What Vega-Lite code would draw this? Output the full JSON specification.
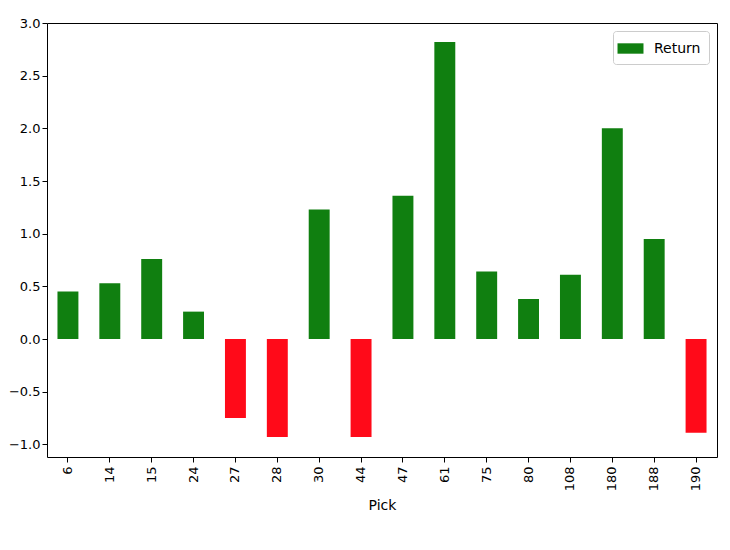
{
  "$schema": "https://vega.github.io/schema/vega-lite/v6.json",
  "width": 670,
  "height": 434,
  "padding": {"left": 8, "top": 17, "right": 8, "bottom": 0},
  "config": {
    "font": "DejaVu Sans",
    "view": {"stroke": "black", "strokeWidth": 1},
    "axis": {"grid": false, "domain": false, "tickColor": "black", "tickSize": 5, "labelColor": "black", "labelFontSize": 13, "titleFontSize": 14, "titleFontWeight": "normal", "titleColor": "black"}
  },
  "data": {
    "values": [
      {"Pick": "6", "Return": 0.45},
      {"Pick": "14", "Return": 0.53},
      {"Pick": "15", "Return": 0.76},
      {"Pick": "24", "Return": 0.26},
      {"Pick": "27", "Return": -0.75},
      {"Pick": "28", "Return": -0.93},
      {"Pick": "30", "Return": 1.23},
      {"Pick": "44", "Return": -0.93},
      {"Pick": "47", "Return": 1.36},
      {"Pick": "61", "Return": 2.82},
      {"Pick": "75", "Return": 0.64},
      {"Pick": "80", "Return": 0.38},
      {"Pick": "108", "Return": 0.61},
      {"Pick": "180", "Return": 2.0},
      {"Pick": "188", "Return": 0.95},
      {"Pick": "190", "Return": -0.89}
    ]
  },
  "mark": {"type": "bar"},
  "encoding": {
    "x": {"field": "Pick", "type": "nominal", "sort": null, "title": "Pick",
      "scale": {"paddingInner": 0.5, "paddingOuter": 0.25},
      "axis": {"labelAngle": -90, "labelPadding": 4, "titlePadding": 8}},
    "y": {"field": "Return", "type": "quantitative", "title": null,
      "scale": {"domain": [-1.12, 3.0], "nice": false, "zero": false},
      "axis": {"values": [-1, -0.5, 0, 0.5, 1, 1.5, 2, 2.5, 3], "format": ".1f"}},
    "color": {
      "condition": {"test": "datum.Return < 0", "value": "#ff0a19"},
      "datum": "Return",
      "scale": {"range": ["#107f10"]},
      "legend": {"title": null, "orient": "top-right", "symbolType": "M-1.5,-0.6H1.5V0.6H-1.5Z", "symbolSize": 300, "labelFontSize": 14, "labelOffset": 14, "strokeColor": "#cccccc", "padding": 8, "cornerRadius": 3, "fillColor": "white", "offset": 8}
    }
  }
}
